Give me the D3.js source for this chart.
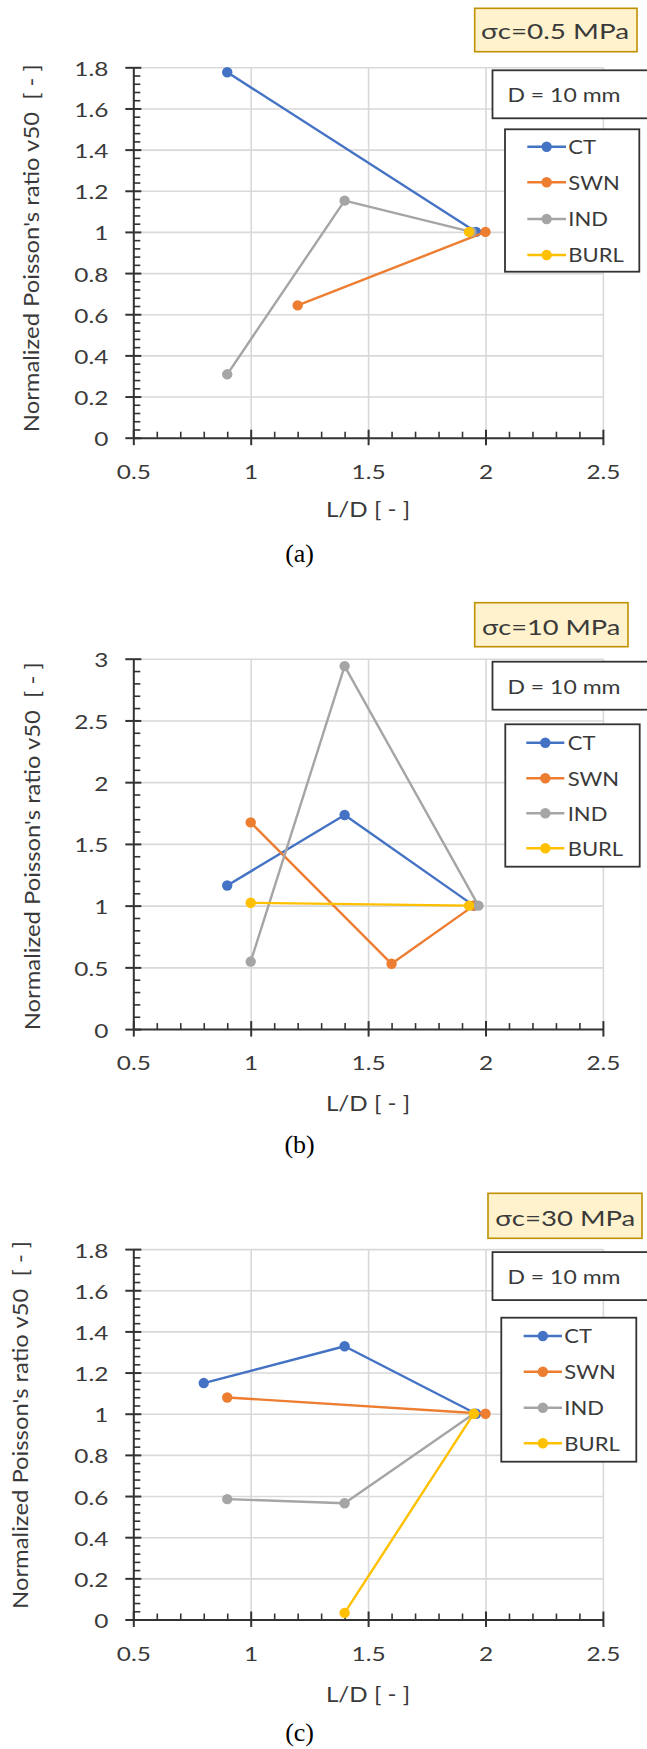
<!DOCTYPE html>
<html>
<head>
<meta charset="utf-8">
<script src="https://cdn.jsdelivr.net/npm/d3@7"></script>
<style>
  html, body { margin: 0; padding: 0; background: #fff; }
  svg { display: block; }
  text { font-family: Lato, "Open Sans", sans-serif; fill: #3a3a3a; white-space: pre; }
  .cap { font-family: "Liberation Serif", "Times New Roman", serif; fill: #000; }
</style>
</head>
<body>
<svg id="chart" width="647" height="1749"></svg>
<script>
// ---------------- data ----------------
const SERIES_NAMES = ["CT", "SWN", "IND", "BURL"];
const SERIES_COLORS = ["#4472c4", "#ed7d31", "#a5a5a5", "#ffc000"];
const X_TICKS = [0.5, 1, 1.5, 2, 2.5];
const Y_TICKS_A = [0, 0.2, 0.4, 0.6, 0.8, 1, 1.2, 1.4, 1.6, 1.8];
const Y_TICKS_B = [0, 0.5, 1, 1.5, 2, 2.5, 3];
const Y_TICKS_C = [0, 0.2, 0.4, 0.6, 0.8, 1, 1.2, 1.4, 1.6, 1.8];
const PANEL_CAPTIONS = ["(a)", "(b)", "(c)"];
const STRESS_LABELS = ["σc=0.5 MPa", "σc=10 MPa", "σc=30 MPa"];
const DIAMETER_LABEL = "D = 10 mm";
const X_TITLE = "L/D [ - ]";
const Y_TITLE = "Normalized Poisson's ratio v50  [ - ]";

// panel (a) σc = 0.5 MPa
const A_CT_X = [0.9, 1.96];        const A_CT_Y = [1.776, 1.0];
const A_SWN_X = [1.2, 2.0];        const A_SWN_Y = [0.643, 1.0];
const A_IND_X = [0.9, 1.4, 1.94];  const A_IND_Y = [0.308, 1.152, 1.0];
const A_BURL_X = [1.93];           const A_BURL_Y = [1.0];
// panel (b) σc = 10 MPa
const B_CT_X = [0.9, 1.4, 1.95];   const B_CT_Y = [1.163, 1.734, 1.0];
const B_SWN_X = [1.0, 1.6, 1.95];  const B_SWN_Y = [1.674, 0.529, 1.0];
const B_IND_X = [1.0, 1.4, 1.97];  const B_IND_Y = [0.547, 2.94, 1.0];
const B_BURL_X = [1.0, 1.93];      const B_BURL_Y = [1.023, 1.0];
// panel (c) σc = 30 MPa
const C_CT_X = [0.8, 1.4, 1.96];   const C_CT_Y = [1.149, 1.328, 1.0];
const C_SWN_X = [0.9, 2.0];        const C_SWN_Y = [1.079, 1.0];
const C_IND_X = [0.9, 1.4, 1.95];  const C_IND_Y = [0.585, 0.565, 1.0];
const C_BURL_X = [1.4, 1.95];      const C_BURL_Y = [0.032, 1.0];

// ---------------- layout ----------------
const panels = [
  { off: 0, yTicks: Y_TICKS_A, yMax: 1.8, yMinor: 0.04,
    series: [[A_CT_X, A_CT_Y], [A_SWN_X, A_SWN_Y], [A_IND_X, A_IND_Y], [A_BURL_X, A_BURL_Y]],
    stressBox: [474.7, 8.3, 162.3, 43.4], stressText: [481, 39.3, 148],
    yTitleX: 39.3, yTitleY: 248.2,
    legend: [505, 129.3, 134.3, 142.4], legendRows: [146.7, 182.3, 219, 255], legLine: [527.3, 566], legText: 568.3,
    xTitleY: 517.3, capY: 561.6 },
  { off: 591.4, yTicks: Y_TICKS_B, yMax: 3, yMinor: 0.1,
    series: [[B_CT_X, B_CT_Y], [B_SWN_X, B_SWN_Y], [B_IND_X, B_IND_Y], [B_BURL_X, B_BURL_Y]],
    stressBox: [474.7, 11.3, 153.3, 44], stressText: [482, 43.6, 138.3],
    yTitleX: 40.3, yTitleY: 254.9,
    legend: [505.3, 132.9, 134.4, 142.4], legendRows: [151.3, 186.9, 221.9, 256.9], legLine: [526.3, 564.3], legText: 567.7,
    xTitleY: 519.4, capY: 561.2 },
  { off: 1181.8, yTicks: Y_TICKS_C, yMax: 1.8, yMinor: 0.04,
    series: [[C_CT_X, C_CT_Y], [C_SWN_X, C_SWN_Y], [C_IND_X, C_IND_Y], [C_BURL_X, C_BURL_Y]],
    stressBox: [488, 11.5, 154, 45], stressText: [495.3, 44.2, 140],
    yTitleX: 28.3, yTitleY: 243.1,
    legend: [501.3, 135.9, 135, 144], legendRows: [154.2, 189.9, 225.9, 261.5], legLine: [523.7, 562], legText: 564.3,
    xTitleY: 519.9, capY: 558.9 }
];

const X0 = 133.3, X1 = 602.9, YTOP = 67.3, YBOT = 437.7;
const svg = d3.select("#chart");
svg.append("rect").attr("width", 647).attr("height", 1749).attr("fill", "#fff");

function txt(g, x, y, s, size, sx, anchor) {
  return g.append("text")
    .attr("transform", `translate(${x},${y}) scale(${sx},1)`)
    .attr("text-anchor", anchor || "start")
    .style("font-size", size + "px")
    .text(s);
}
const fmt = d => String(+d.toFixed(2));

panels.forEach((p, pi) => {
  const g = svg.append("g").attr("transform", `translate(0,${p.off})`);
  const x = d3.scaleLinear().domain([0.5, 2.5]).range([X0, X1]);
  const y = d3.scaleLinear().domain([0, p.yMax]).range([YBOT, YTOP]);

  // grid
  g.append("g").attr("transform", `translate(${X0},0)`)
    .call(d3.axisLeft(y).tickValues(p.yTicks.filter(v => v > 0)).tickSize(-(X1 - X0)).tickFormat(""))
    .call(a => a.select(".domain").remove())
    .call(a => a.selectAll("line").attr("stroke", "#d9d9d9").attr("stroke-width", 1.6));
  g.append("g").attr("transform", `translate(0,${YBOT})`)
    .call(d3.axisBottom(x).tickValues(X_TICKS.filter(v => v > 0.5)).tickSize(-(YBOT - YTOP)).tickFormat(""))
    .call(a => a.select(".domain").remove())
    .call(a => a.selectAll("line").attr("stroke", "#d9d9d9").attr("stroke-width", 1.6));

  // y axis minor
  const yMinorVals = d3.range(0, p.yMax + 1e-9, p.yMinor)
    .filter(v => !p.yTicks.some(t => Math.abs(t - v) < 1e-6));
  g.append("g").attr("transform", `translate(${X0},0)`)
    .call(d3.axisLeft(y).tickValues(yMinorVals).tickSize(-7).tickSizeOuter(0).tickFormat(""))
    .call(a => a.select(".domain").remove())
    .call(a => a.selectAll("line").attr("stroke", "#333").attr("stroke-width", 1.6));
  // x axis minor
  const xMinorVals = d3.range(0.5, 2.5 + 1e-9, 0.1)
    .filter(v => !X_TICKS.some(t => Math.abs(t - v) < 1e-6));
  g.append("g").attr("transform", `translate(0,${YBOT})`)
    .call(d3.axisBottom(x).tickValues(xMinorVals).tickSize(-6).tickSizeOuter(0).tickFormat(""))
    .call(a => a.select(".domain").remove())
    .call(a => a.selectAll("line").attr("stroke", "#333").attr("stroke-width", 1.6));

  // y axis major
  g.append("g").attr("transform", `translate(${X0},0)`)
    .call(d3.axisLeft(y).tickValues(p.yTicks).tickSize(8).tickSizeOuter(0).tickFormat(fmt))
    .call(a => a.select(".domain").attr("stroke", "#333").attr("stroke-width", 2))
    .call(a => a.selectAll(".tick line").attr("x1", 8).attr("stroke", "#333").attr("stroke-width", 2))
    .call(a => a.selectAll(".tick text")
      .attr("x", null).attr("dy", null).attr("fill", null)
      .attr("transform", "translate(-25,8) scale(1.22,1)")
      .style("font-size", "20px").style("font-family", "Lato, sans-serif"));

  // x axis major
  g.append("g").attr("transform", `translate(0,${YBOT})`)
    .call(d3.axisBottom(x).tickValues(X_TICKS).tickSize(7.5).tickSizeOuter(0).tickFormat(fmt))
    .call(a => a.select(".domain").attr("stroke", "#333").attr("stroke-width", 2))
    .call(a => a.selectAll(".tick line").attr("y1", -8).attr("stroke", "#333").attr("stroke-width", 2))
    .call(a => a.selectAll(".tick text")
      .attr("y", null).attr("dy", null).attr("fill", null)
      .attr("transform", "translate(0,41.3) scale(1.22,1)")
      .style("font-size", "20px").style("font-family", "Lato, sans-serif"));

  // series
  const line = d3.line().x(d => x(d[0])).y(d => y(d[1]));
  p.series.forEach((s, si) => {
    const pts = s[0].map((v, i) => [v, s[1][i]]);
    const sg = g.append("g");
    sg.append("path").datum(pts).attr("d", line)
      .attr("fill", "none").attr("stroke", SERIES_COLORS[si]).attr("stroke-width", 2.4)
      .attr("stroke-linejoin", "round");
    sg.selectAll("circle").data(pts).join("circle")
      .attr("cx", d => x(d[0])).attr("cy", d => y(d[1])).attr("r", 5.2)
      .attr("fill", SERIES_COLORS[si]);
  });

  // stress box
  const sb = p.stressBox;
  g.append("rect").attr("x", sb[0]).attr("y", sb[1]).attr("width", sb[2]).attr("height", sb[3])
    .attr("fill", "#fff2cc").attr("stroke", "#bf9000").attr("stroke-width", 1.6);
  g.append("text").attr("x", p.stressText[0]).attr("y", p.stressText[1])
    .attr("textLength", p.stressText[2]).attr("lengthAdjust", "spacingAndGlyphs")
    .style("font-size", "21.5px").text(STRESS_LABELS[pi]);

  // D box
  g.append("rect").attr("x", 492.5).attr("y", 70.3).attr("width", 170).attr("height", 48)
    .attr("fill", "#fff").attr("stroke", "#333").attr("stroke-width", 1.8);
  g.append("text").attr("x", 507.5).attr("y", 102.2)
    .attr("textLength", 113).attr("lengthAdjust", "spacingAndGlyphs")
    .style("font-size", "20px").text(DIAMETER_LABEL);

  // legend
  const lb = p.legend;
  g.append("rect").attr("x", lb[0]).attr("y", lb[1]).attr("width", lb[2]).attr("height", lb[3])
    .attr("fill", "#fff").attr("stroke", "#333").attr("stroke-width", 1.8);
  SERIES_NAMES.forEach((n, si) => {
    const ry = p.legendRows[si];
    g.append("line").attr("x1", p.legLine[0]).attr("x2", p.legLine[1]).attr("y1", ry).attr("y2", ry)
      .attr("stroke", SERIES_COLORS[si]).attr("stroke-width", 2.4);
    g.append("circle").attr("cx", (p.legLine[0] + p.legLine[1]) / 2).attr("cy", ry).attr("r", 5.2)
      .attr("fill", SERIES_COLORS[si]);
    txt(g, p.legText, ry + 7.4, n, 20, 1.1, "start");
  });

  // axis titles
  txt(g, 368, p.xTitleY, X_TITLE, 22, 1.1, "middle");
  g.append("text")
    .attr("transform", `translate(${p.yTitleX},${p.yTitleY}) rotate(-90)`)
    .attr("text-anchor", "middle")
    .attr("textLength", 368).attr("lengthAdjust", "spacingAndGlyphs")
    .style("font-size", "22px").text(Y_TITLE);

  // caption
  g.append("text").attr("class", "cap").attr("x", 299.6).attr("y", p.capY)
    .attr("text-anchor", "middle").style("font-size", "26px").text(PANEL_CAPTIONS[pi]);
});
</script>
</body>
</html>
